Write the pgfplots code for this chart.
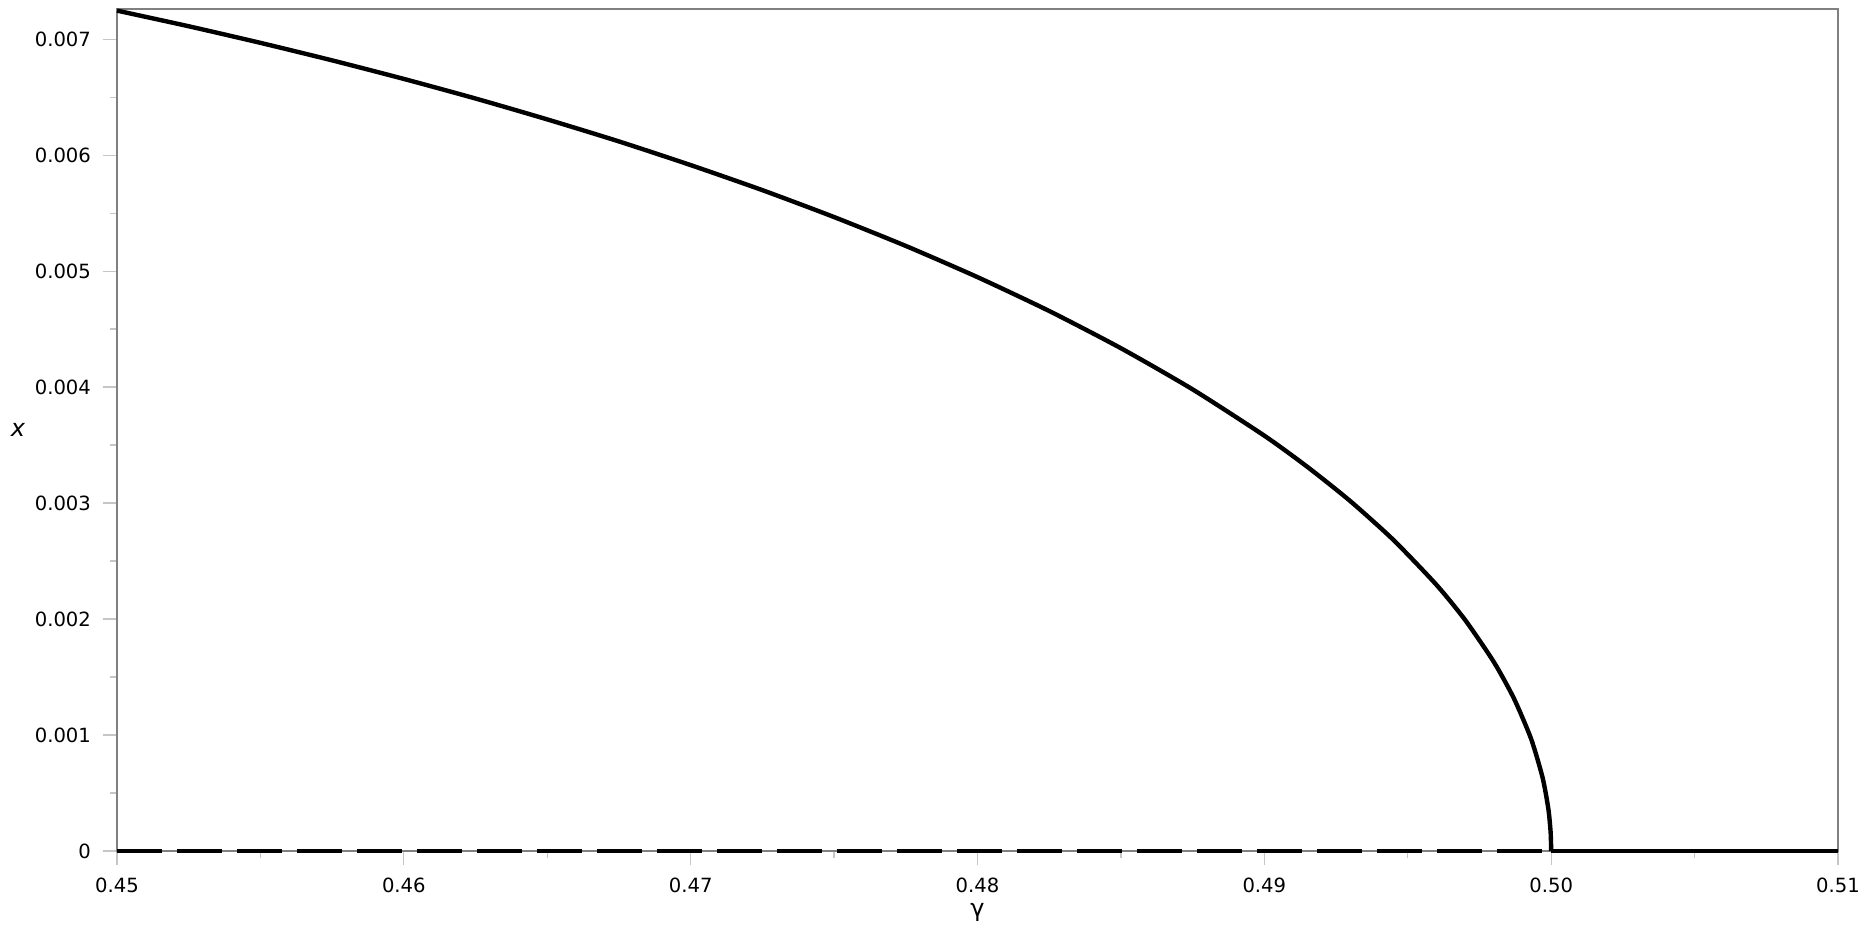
\documentclass[border=0pt]{standalone}
\usepackage{pgfplots}
\pgfplotsset{compat=1.18}
\usepackage{fontspec}
\setmainfont{DejaVu Sans}

\begin{document}
\begin{tikzpicture}
\begin{axis}[
    name=ax,
    scale only axis,
    width=860.5pt,
    height=421pt,
    xmin=0.45, xmax=0.51,
    ymin=0, ymax=0.00726,
    clip=false,
    axis line style={gray, line width=0.9pt},
    tick align=outside,
    tick pos=left,
    major tick length=7pt,
    minor tick length=3.5pt,
    every tick/.style={gray!45, line width=0.6pt},
    xtick={0.45,0.46,0.47,0.48,0.49,0.50,0.51},
    xticklabels={0.45,0.46,0.47,0.48,0.49,0.50,0.51},
    minor x tick num=1,
    ytick={0,0.001,0.002,0.003,0.004,0.005,0.006,0.007},
    yticklabels={0,0.001,0.002,0.003,0.004,0.005,0.006,0.007},
    minor y tick num=1,
    scaled x ticks=false,
    scaled y ticks=false,
    tick label style={font=\fontsize{9.8}{12}\selectfont},
    xticklabel style={anchor=center, yshift=-10pt},
    yticklabel style={anchor=east, xshift=-2.5pt},
    xlabel={γ},
    ylabel={\textit{x}},
    every axis x label/.style={at={(axis description cs:0.5,0)}, anchor=center, yshift=-30.5pt, font=\fontsize{12}{14}\selectfont},
    every axis y label/.style={at={(axis description cs:0,0.5)}, anchor=center, xshift=-49.5pt, font=\fontsize{12}{14}\selectfont},
]

% upper branch
\addplot[black, line width=2.2pt, smooth, tension=0.4, line join=round] coordinates {
    (0.45, 0.007246) (0.4525, 0.007111) (0.455, 0.006968) (0.4575, 0.006817)
    (0.46, 0.006657) (0.4625, 0.006488) (0.465, 0.006308) (0.4675, 0.006118)
    (0.47, 0.005914) (0.4725, 0.005698) (0.475, 0.005466) (0.4775, 0.005217)
    (0.48, 0.004948) (0.4825, 0.004656) (0.485, 0.004335) (0.4875, 0.003980)
    (0.49, 0.003581) (0.4915, 0.003312) (0.493, 0.003016) (0.4945, 0.002682)
    (0.496, 0.002295) (0.497, 0.001992) (0.498, 0.001630) (0.4987, 0.001316)
    (0.4993, 0.000967) (0.4997, 0.000633) (0.4999, 0.000366) (0.49998, 0.000164)
    (0.5, 0)
};

% trivial branch, unstable part
\addplot[black, line width=2.2pt, dash pattern=on 22.5pt off 7.5pt] coordinates {
    (0.45, 0) (0.5, 0)
};

% trivial branch, stable part
\addplot[black, line width=2.2pt] coordinates {
    (0.5, 0) (0.51, 0)
};
\end{axis}
\pgfresetboundingbox
\path[use as bounding box] ([xshift=-58.5pt, yshift=-41pt]ax.south west) rectangle ([xshift=13pt, yshift=4.5pt]ax.north east);
\end{tikzpicture}
\end{document}
